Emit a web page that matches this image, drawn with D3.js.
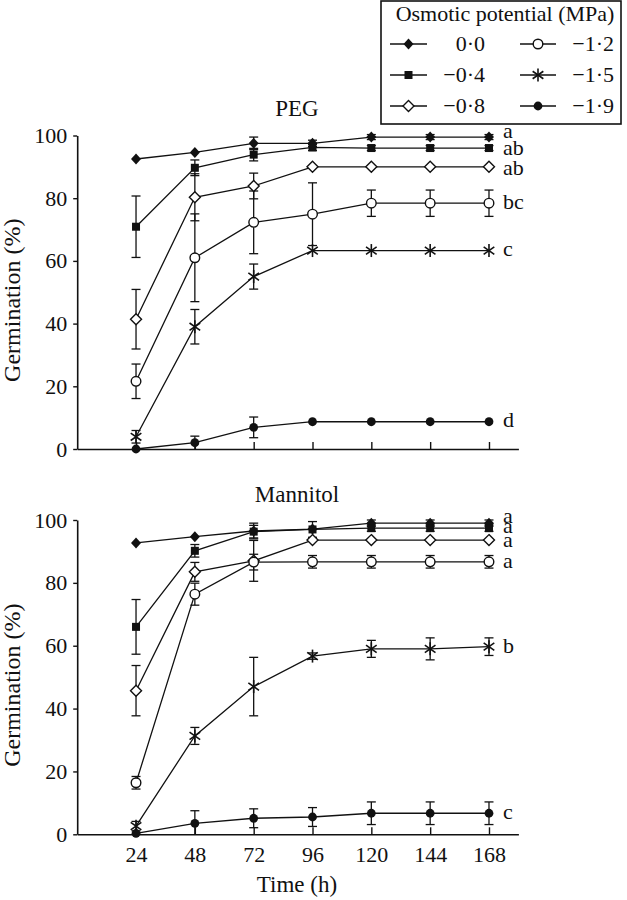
<!DOCTYPE html>
<html>
<head>
<meta charset="utf-8">
<script src="https://cdn.jsdelivr.net/npm/d3@7"></script>
<style>
  html, body { margin: 0; padding: 0; background: #fff; }
  svg text { font-family: "Liberation Serif", "Times New Roman", serif; fill: #111; }
</style>
</head>
<body>
<svg id="chart" width="627" height="900"></svg>
<script>
// ---------------- DATA ----------------
const times = [24, 48, 72, 96, 120, 144, 168];
const xTicks = [24, 48, 72, 96, 120, 144, 168];
const yTicks = [0, 20, 40, 60, 80, 100];
const potentials = ["0·0", "−0·4", "−0·8", "−1·2", "−1·5", "−1·9"];

// PEG means (%) per potential
const peg00 = [92.5, 94.6, 97.5, 97.5, 99.5, 99.5, 99.5];
const peg04 = [70.9, 89.7, 93.9, 96.2, 96.0, 96.0, 96.0];
const peg08 = [41.4, 80.3, 83.9, 90.0, 90.0, 90.0, 90.0];
const peg12 = [21.6, 61.0, 72.3, 74.9, 78.4, 78.4, 78.4];
const peg15 = [3.9, 39.0, 55.0, 63.3, 63.3, 63.3, 63.3];
const peg19 = [0.0, 2.0, 6.9, 8.7, 8.7, 8.7, 8.7];
// PEG error (±)
const peg00e = [0, 0, 2.0, 1.0, 0.8, 0.8, 0.8];
const peg04e = [9.8, 2.5, 2.0, 1.0, 0.8, 0.8, 0.8];
const peg08e = [9.5, 7.5, 4.1, 0, 0, 0, 0];
const peg12e = [5.5, 14.0, 10.0, 10.0, 4.2, 4.2, 4.2];
const peg15e = [2.0, 5.5, 4.0, 0, 0, 0, 0];
const peg19e = [0, 2.1, 3.3, 0, 0, 0, 0];
const pegLetters = ["a", "ab", "ab", "bc", "c", "d"];
const pegLetterY = [101.4, 96.0, 89.6, 78.8, 63.8, 9.4];

// Mannitol means (%)
const man00 = [92.7, 94.7, 96.5, 97.1, 99.0, 99.0, 99.0];
const man04 = [66.0, 90.2, 96.3, 97.0, 97.4, 97.4, 97.4];
const man08 = [45.7, 83.5, 87.0, 93.6, 93.6, 93.6, 93.6];
const man12 = [16.4, 76.4, 86.6, 86.7, 86.7, 86.7, 86.7];
const man15 = [2.6, 31.3, 47.0, 56.7, 59.0, 59.0, 59.7];
const man19 = [0.3, 3.5, 5.1, 5.5, 6.7, 6.7, 6.7];
// Mannitol error (±)
const man00e = [0, 0, 2.5, 0, 1.0, 1.0, 1.0];
const man04e = [8.7, 2.0, 2.0, 2.5, 1.0, 1.0, 1.0];
const man08e = [8.0, 3.0, 6.5, 0, 0, 0, 0];
const man12e = [2.0, 3.5, 2.5, 2.0, 2.0, 2.0, 2.0];
const man15e = [1.5, 2.7, 9.3, 1.0, 2.7, 3.5, 2.8];
const man19e = [0, 4.0, 3.0, 3.0, 3.6, 3.6, 3.6];
const manLetters = ["a", "a", "a", "a", "b", "c"];
const manLetterY = [101.4, 98.1, 93.7, 86.9, 59.8, 7.1];

// ---------------- BUILD ----------------
const pegMeans = [peg00, peg04, peg08, peg12, peg15, peg19];
const pegErrs = [peg00e, peg04e, peg08e, peg12e, peg15e, peg19e];
const manMeans = [man00, man04, man08, man12, man15, man19];
const manErrs = [man00e, man04e, man08e, man12e, man15e, man19e];
const markerTypes = ["diamondFilled", "squareFilled", "diamondOpen", "circleOpen", "asterisk", "circleFilled"];

const svg = d3.select("#chart");
const FONT = 22;       // ticks, legend, letters
const TITLE_FONT = 23; // panel titles
const LABEL_FONT = 24; // axis titles
const x = d3.scaleLinear().domain([0, 180]).range([77.2, 518.4]);

function drawMarker(g, type, cx, cy) {
  const m = g.append("g").attr("transform", `translate(${cx},${cy})`);
  if (type === "diamondFilled") {
    m.append("path").attr("d", "M0,-5.5L5,0L0,5.5L-5,0Z").attr("fill", "#111");
  } else if (type === "diamondOpen") {
    m.append("path").attr("d", "M0,-5.5L5.5,0L0,5.5L-5.5,0Z").attr("fill", "#fff").attr("stroke", "#111").attr("stroke-width", 1.4);
  } else if (type === "squareFilled") {
    m.append("rect").attr("x", -4).attr("y", -4).attr("width", 8).attr("height", 8).attr("fill", "#111");
  } else if (type === "circleOpen") {
    m.append("circle").attr("r", 4.8).attr("fill", "#fff").attr("stroke", "#111").attr("stroke-width", 1.4);
  } else if (type === "circleFilled") {
    m.append("circle").attr("r", 4.4).attr("fill", "#111");
  } else if (type === "asterisk") {
    const r = 6.5;
    [90, 35, 145].forEach(a => {
      const rad = a * Math.PI / 180;
      m.append("line")
        .attr("x1", -r * Math.cos(rad)).attr("y1", -r * Math.sin(rad))
        .attr("x2", r * Math.cos(rad)).attr("y2", r * Math.sin(rad))
        .attr("stroke", "#111").attr("stroke-width", 1.6);
    });
  }
}

function panel(title, titleY, yTop, yBottom, means, errs, letters, letterY, showXLabels) {
  const y = d3.scaleLinear().domain([0, 100]).range([yBottom, yTop]);
  const g = svg.append("g");

  // axes
  const yAxis = d3.axisLeft(y).tickValues(yTicks).tickSizeInner(4).tickSizeOuter(0).tickPadding(6);
  const ya = g.append("g").attr("transform", `translate(${x(0)},0)`).call(yAxis);
  ya.select(".domain").attr("stroke", "#111").attr("stroke-width", 1.6);
  ya.selectAll(".tick line").attr("stroke", "#111").attr("stroke-width", 1.4);
  ya.selectAll("text").attr("font-size", FONT).attr("font-family", "Liberation Serif").attr("fill", "#111");

  const xAxis = d3.axisBottom(x).tickValues(xTicks).tickSizeInner(-7).tickSizeOuter(0).tickPadding(12);
  if (!showXLabels) xAxis.tickFormat("");
  const xa = g.append("g").attr("transform", `translate(0,${yBottom})`).call(xAxis);
  xa.select(".domain").attr("stroke", "#111").attr("stroke-width", 1.6);
  xa.selectAll(".tick line").attr("stroke", "#111").attr("stroke-width", 1.4);
  xa.selectAll("text").attr("font-size", FONT).attr("font-family", "Liberation Serif").attr("fill", "#111");

  // y label
  g.append("text")
    .attr("transform", `translate(20,${(yTop + yBottom) / 2 + 8}) rotate(-90)`)
    .attr("text-anchor", "middle").attr("font-size", LABEL_FONT)
    .text("Germination (%)");

  // title
  g.append("text").attr("x", 297).attr("y", titleY).attr("text-anchor", "middle")
    .attr("font-size", TITLE_FONT).text(title);

  const line = d3.line().x((d, i) => x(times[i])).y(d => y(d));

  // lines
  means.forEach(s => {
    g.append("path").datum(s).attr("d", line)
      .attr("fill", "none").attr("stroke", "#111").attr("stroke-width", 1.3);
  });
  // error bars
  means.forEach((s, k) => {
    s.forEach((v, i) => {
      const e = errs[k][i];
      if (e <= 0.3) return;
      const cx = x(times[i]);
      const eb = g.append("g").attr("stroke", "#111").attr("stroke-width", 1.3);
      const top = Math.min(100.5, v + e), bot = Math.max(0, v - e);
      eb.append("line").attr("x1", cx).attr("x2", cx).attr("y1", y(top)).attr("y2", y(bot));
      eb.append("line").attr("x1", cx - 4.5).attr("x2", cx + 4.5).attr("y1", y(top)).attr("y2", y(top));
      if (v - e > 0) eb.append("line").attr("x1", cx - 4.5).attr("x2", cx + 4.5).attr("y1", y(bot)).attr("y2", y(bot));
    });
  });
  // markers
  means.forEach((s, k) => {
    s.forEach((v, i) => drawMarker(g, markerTypes[k], x(times[i]), y(v)));
  });
  // significance letters
  letters.forEach((t, k) => {
    g.append("text").attr("x", 503).attr("y", y(letterY[k]) + 7)
      .attr("font-size", FONT).text(t);
  });
  return y;
}

panel("PEG", 116, 135.5, 449, pegMeans, pegErrs, pegLetters, pegLetterY, false);
panel("Mannitol", 501.7, 520, 834.3, manMeans, manErrs, manLetters, manLetterY, true);

svg.append("text").attr("x", 297).attr("y", 892).attr("text-anchor", "middle")
  .attr("font-size", TITLE_FONT).text("Time (h)");

// legend
const lg = svg.append("g");
lg.append("rect").attr("x", 381).attr("y", 1).attr("width", 240).attr("height", 123)
  .attr("fill", "#fff").attr("stroke", "#111").attr("stroke-width", 1.6);
lg.append("text").attr("x", 505).attr("y", 21).attr("text-anchor", "middle")
  .attr("font-size", FONT).text("Osmotic potential (MPa)");
const rowY = [44, 75, 106];
potentials.forEach((p, k) => {
  const col = Math.floor(k / 3), row = k % 3;
  const x1 = col === 0 ? 390 : 520, x2 = col === 0 ? 427 : 556;
  const mx = col === 0 ? 408.5 : 538;
  const tx = col === 0 ? 485 : 614;
  const cy = rowY[row];
  lg.append("line").attr("x1", x1).attr("x2", x2).attr("y1", cy).attr("y2", cy)
    .attr("stroke", "#111").attr("stroke-width", 1.4);
  drawMarker(lg, markerTypes[k], mx, cy);
  lg.append("text").attr("x", tx).attr("y", cy + 7).attr("text-anchor", "end")
    .attr("font-size", FONT).text(p);
});
</script>
</body>
</html>
